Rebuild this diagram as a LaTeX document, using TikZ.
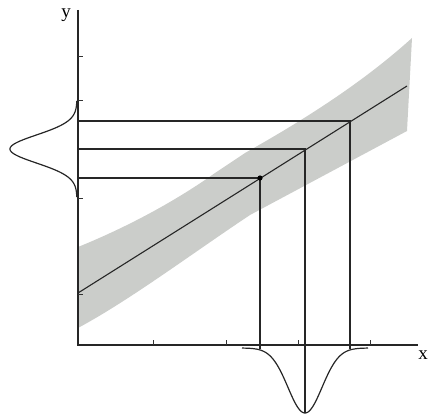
\documentclass[tikz,border=0pt]{standalone}
\usepackage{fontspec}
\setmainfont{Liberation Serif}
\definecolor{bandgray}{RGB}{203,205,202}
\begin{document}
\begin{tikzpicture}[x=1pt,y=-1pt,
  axis/.style={line width=1.6pt,black!85},
  thin/.style={line width=1.1pt,black!85},
  curve/.style={line width=1.2pt,black!85},
  tick/.style={line width=1pt,black!80},
  lbl/.style={font=\fontsize{19}{19}\selectfont,inner sep=0pt}]
\useasboundingbox (0,0) rectangle (429,417);
% band
\fill[bandgray] (78,247) .. controls (120,230) and (170,205) .. (215,173)
  -- (245,153) .. controls (300,122) and (360,85) .. (412,38)
  -- (407,131) -- (250,215) .. controls (190,255) and (130,300) .. (78,328)
  -- cycle;
% axes
\coordinate (O) at (78,345);
\coordinate (ytop) at (78,10);
\coordinate (xend) at (418,345);
\draw[axis] (ytop) -- (O) -- (xend);
\node[lbl] (ylab) at (66,15) {y};
\node[lbl] (xlab) at (423,355) {x};
% ticks
\foreach \t in {57,101,199,295} \draw[tick] (78,\t) -- (83,\t);
\foreach \t in {153,226,298,370} \draw[tick] (\t,345) -- (\t,340);
% regression line
\coordinate (L0) at (78,293);
\coordinate (L1) at (407,86);
\draw[thin] (L0) -- (L1);
% points
\coordinate (P1) at (260,178);
\coordinate (P2) at (305,149);
\coordinate (P3) at (350,121);
\coordinate (Y1) at (78,178);
\coordinate (Y2) at (78,149);
\coordinate (Y3) at (78,121);
\coordinate (X1) at (260,349);
\coordinate (X2) at (305,413);
\coordinate (X3) at (350,349);
\draw[thin] (Y1) -- (P1) -- (X1);
\draw[thin] (Y2) -- (P2) -- (X2);
\draw[thin] (Y3) -- (P3) -- (X3);
\fill (P1) circle (2.6);
% gaussians
\draw[curve] plot[domain=-48:48,samples=120,smooth] ({77-67*exp(-(\x*\x)/392)},{149+\x});
\draw[curve] plot[domain=-63:63,samples=120,smooth] ({305+\x},{348+65*exp(-(\x*\x)/578)});
\end{tikzpicture}
\end{document}
